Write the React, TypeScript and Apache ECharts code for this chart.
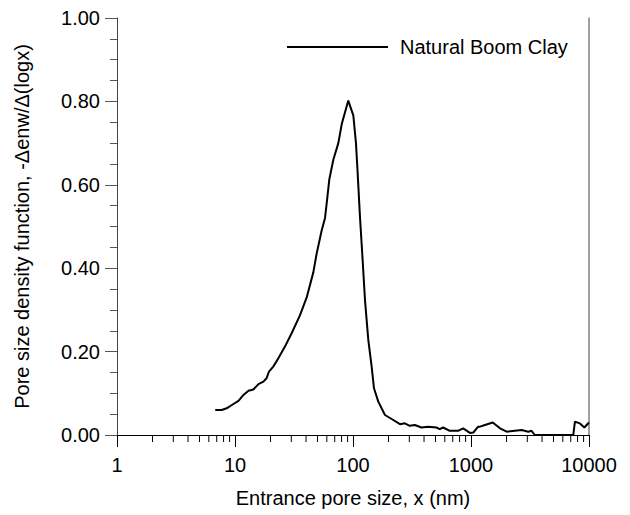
import React, { useEffect, useRef } from 'react';
import * as echarts from 'echarts';

const seriesName = 'Natural Boom Clay';

const poreSize = [
  6.8, 7.7, 8.5, 9.4, 10.7, 11.8, 13.0, 14.3, 15.8, 17.4, 18.5, 19.4, 21.1, 23.3, 26.5, 30.2,
  35.5, 40.5, 46.1, 49.2, 54.3, 57.9, 59.8, 63.0, 68.1, 75.1, 80.2, 91.2, 100.7, 106, 108.8,
  114.6, 120.7, 126.4, 134.8, 143.9, 150.6, 163.8, 186.6, 219.6, 250, 275, 303, 334, 380, 433,
  509, 543, 580, 661, 777, 857, 980, 1047, 1150, 1192, 1312, 1528, 1762, 2006, 2690, 3058,
  3260, 3470, 7360, 7600, 8340, 9130, 10000,
];

const density = [
  0.06, 0.06, 0.064, 0.072, 0.082, 0.096, 0.106, 0.109, 0.122, 0.128, 0.136, 0.152, 0.164, 0.184,
  0.212, 0.244, 0.287, 0.33, 0.39, 0.435, 0.491, 0.52, 0.555, 0.613, 0.66, 0.7, 0.745, 0.802,
  0.766, 0.699, 0.643, 0.523, 0.419, 0.323, 0.228, 0.164, 0.112, 0.08, 0.048, 0.036, 0.026,
  0.028, 0.022, 0.024, 0.018, 0.02, 0.018, 0.014, 0.018, 0.01, 0.01, 0.016, 0.005, 0.006, 0.02,
  0.02, 0.024, 0.03, 0.016, 0.008, 0.012, 0.008, 0.01, 0, 0, 0.032, 0.028, 0.018, 0.03,
];

const xMinorTicks = [
  2, 3, 4, 5, 6, 7, 8, 9,
  20, 30, 40, 50, 60, 70, 80, 90,
  200, 300, 400, 500, 600, 700, 800, 900,
  2000, 3000, 4000, 5000, 6000, 7000, 8000, 9000,
];

const FONT = '"Liberation Sans", Arial, sans-serif';

export default function App() {
  const ref = useRef<HTMLDivElement>(null);

  useEffect(() => {
    document.body.style.margin = '0';
    if (!ref.current) return;
    const chart = echarts.init(ref.current, null, { renderer: 'svg' });
    const lineData = poreSize.map((x, i) => [x, density[i]]);
    const minorData = xMinorTicks.map((x) => [x, 0]);

    chart.setOption({
      animation: false,
      backgroundColor: '#fff',
      textStyle: { fontFamily: FONT },
      grid: { left: 117, right: 41, top: 18, bottom: 80, outerBoundsMode: 'none' },
      legend: {
        data: [seriesName],
        left: 287,
        top: 37,
        icon: 'rect',
        itemWidth: 101,
        itemHeight: 2,
        itemGap: 0,
        padding: 0,
        textStyle: { fontSize: 20, color: '#000', fontFamily: FONT, padding: [0, 0, 0, 7] },
        selectedMode: false,
      },
      xAxis: {
        type: 'log',
        logBase: 10,
        min: 1,
        max: 10000,
        name: 'Entrance pore size, x (nm)',
        nameLocation: 'middle',
        nameGap: 53,
        nameTextStyle: { fontSize: 20, color: '#000', fontFamily: FONT },
        axisLine: { lineStyle: { color: '#000', width: 1 } },
        axisTick: { length: 12, lineStyle: { color: '#000', width: 1 } },
        axisLabel: {
          fontSize: 20,
          color: '#000',
          fontFamily: FONT,
          margin: 20,
          formatter: (v: number) => String(Math.round(v)),
        },
        splitLine: { show: false },
        minorTick: { show: false },
      },
      yAxis: [
        {
          type: 'value',
          min: 0,
          max: 1,
          interval: 0.2,
          name: 'Pore size density function, -\u0394enw/\u0394(logx)',
          nameLocation: 'middle',
          nameRotate: 90,
          nameGap: 85,
          nameTextStyle: { fontSize: 20, color: '#000', fontFamily: FONT },
          axisLine: { show: true, lineStyle: { color: '#444', width: 1 } },
          axisTick: { show: true, length: 12, lineStyle: { color: '#555', width: 1 } },
          minorTick: { show: true, splitNumber: 4, length: 7, lineStyle: { color: '#555', width: 1 } },
          axisLabel: {
            fontSize: 20,
            color: '#000',
            fontFamily: FONT,
            margin: 17,
            formatter: (v: number) => v.toFixed(2),
          },
          splitLine: { show: false },
        },
        {
          type: 'value',
          min: 0,
          max: 1,
          position: 'right',
          axisLine: { show: true, lineStyle: { color: '#808080', width: 1.5 } },
          axisTick: { show: false },
          axisLabel: { show: false },
          splitLine: { show: false },
        },
      ],
      series: [
        {
          name: seriesName,
          type: 'line',
          data: lineData,
          symbol: 'none',
          showSymbol: false,
          lineStyle: { color: '#000', width: 2 },
          itemStyle: { color: '#000' },
          clip: true,
        },
        {
          name: 'minorTicks',
          type: 'custom',
          data: minorData,
          silent: true,
          clip: false,
          encode: { x: 0, y: 1 },
          renderItem: (_params: any, api: any) => {
            const p = api.coord([api.value(0), api.value(1)]);
            return {
              type: 'line',
              shape: { x1: p[0], y1: p[1], x2: p[0], y2: p[1] + 7 },
              style: { stroke: '#000', lineWidth: 1 },
            };
          },
        },
      ],
    });

    return () => chart.dispose();
  }, []);

  return <div ref={ref} style={{ width: 630, height: 515 }} />;
}
